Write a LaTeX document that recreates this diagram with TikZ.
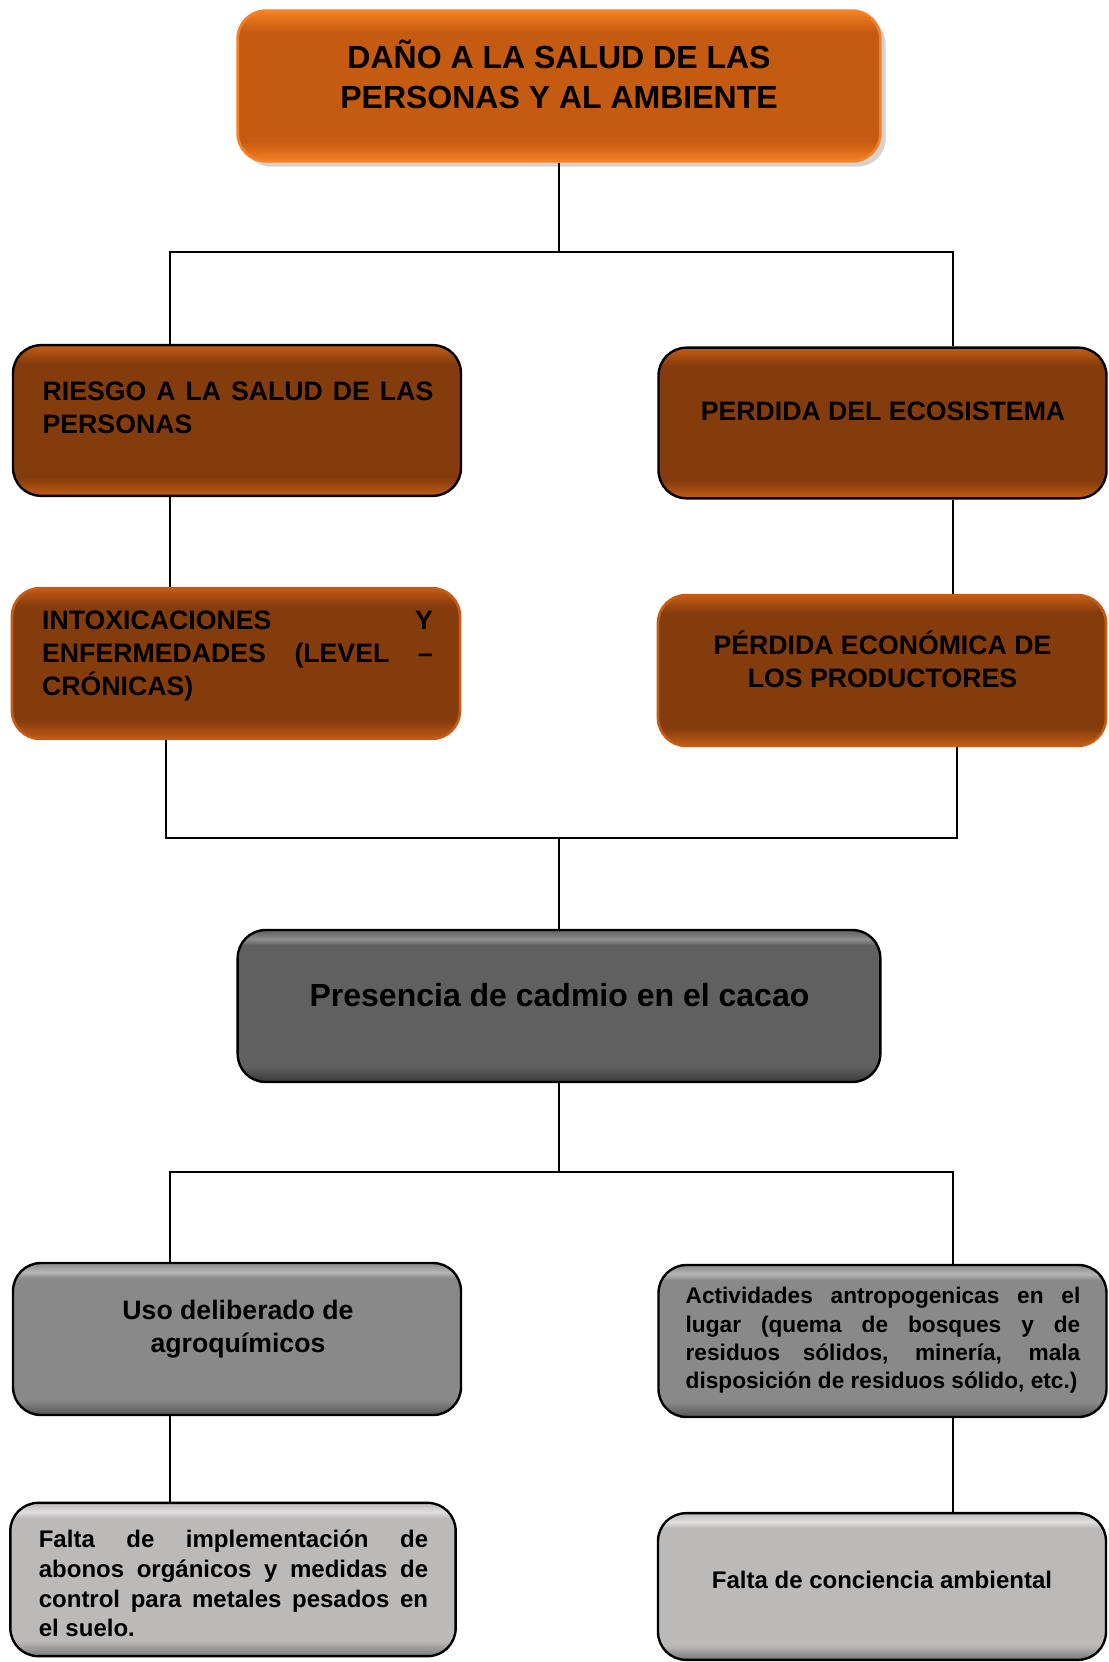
\documentclass[tikz,border=0pt]{standalone}
\usepackage{fontspec}
\setmainfont{Liberation Sans}
\usetikzlibrary{shadows}

\definecolor{orgbody}{RGB}{197,90,17}
\definecolor{orgrim}{RGB}{246,128,36}
\definecolor{brnbody}{RGB}{132,60,12}
\definecolor{brnrim}{RGB}{196,92,22}
\definecolor{gdbody}{RGB}{96,96,96}
\definecolor{gdhi}{RGB}{142,142,142}
\definecolor{gdlow}{RGB}{55,55,55}
\definecolor{gmbody}{RGB}{137,137,137}
\definecolor{gmhi}{RGB}{182,182,182}
\definecolor{gmlow}{RGB}{85,85,85}
\definecolor{glbody}{RGB}{188,185,185}
\definecolor{glhi}{RGB}{224,222,222}
\definecolor{gllow}{RGB}{122,120,120}

\pgfdeclareverticalshading{orangeglow}{100bp}{color(0bp)=(orgrim); color(25bp)=(orgrim); color(32bp)=(orgbody); color(68bp)=(orgbody); color(75bp)=(orgrim); color(100bp)=(orgrim)}
\pgfdeclareverticalshading{brownglow}{100bp}{color(0bp)=(brnrim); color(25bp)=(brnrim); color(31bp)=(brnbody); color(69bp)=(brnbody); color(75bp)=(brnrim); color(100bp)=(brnrim)}
\pgfdeclareverticalshading{bevdark}{100bp}{color(0bp)=(gdlow); color(25bp)=(gdlow); color(30bp)=(gdbody); color(70bp)=(gdbody); color(72bp)=(gdhi); color(75bp)=(gdbody); color(100bp)=(gdbody)}
\pgfdeclareverticalshading{bevmid}{100bp}{color(0bp)=(gmlow); color(25bp)=(gmlow); color(30bp)=(gmbody); color(70bp)=(gmbody); color(72bp)=(gmhi); color(75bp)=(gmbody); color(100bp)=(gmbody)}
\pgfdeclareverticalshading{bevlight}{100bp}{color(0bp)=(gllow); color(25bp)=(gllow); color(30bp)=(glbody); color(70bp)=(glbody); color(72bp)=(glhi); color(75bp)=(glbody); color(100bp)=(glbody)}

\tikzset{every picture/.style={line width=0.75pt}}

\begin{document}
\begin{tikzpicture}[
            x=0.75pt,
            y=0.75pt,
            yscale=-1,
            xscale=1,
            box/.style={rectangle, rounded corners=21pt, inner sep=0pt},
            wide/.style={box, minimum width=482pt, minimum height=113pt},
            side/.style={box, minimum width=336pt, minimum height=113pt},
            orangebox/.style={shading=orangeglow, draw=orgrim, line width=2pt,
                drop shadow={shadow xshift=4pt, shadow yshift=-4pt, opacity=0.35}},
            brownbox/.style={shading=brownglow, draw=black, line width=1.8pt},
            brownglowbox/.style={shading=brownglow, draw=brnrim, line width=2pt},
            darkbox/.style={shading=bevdark, draw=black, line width=1.8pt},
            midbox/.style={shading=bevmid, draw=black, line width=1.8pt},
            lightbox/.style={shading=bevlight, draw=black, line width=1.8pt},
            toptxt/.style={inner sep=0pt, align=center, font=\bfseries\fontsize{24}{30}\selectfont},
            captxt/.style={inner sep=0pt, font=\bfseries\fontsize{20}{25}\selectfont},
            bigtxt/.style={inner sep=0pt, font=\bfseries\fontsize{24}{29}\selectfont},
            smalltxt/.style={inner sep=0pt, font=\bfseries\fontsize{17}{21.2}\selectfont},
            midtxt/.style={inner sep=0pt, font=\bfseries\fontsize{18}{22.3}\selectfont},
            link/.style={draw=black, line width=1.8pt}
        ]
            \useasboundingbox (0,0) rectangle (1109,1662);

            % efectos
            \node[wide, orangebox] (dano) at (559,86) {};
            \node[side, brownbox] (riesgo) at (237,420.5) {};
            \node[side, brownbox] (perdida) at (882.5,423) {};
            \node[side, brownglowbox] (intox) at (236,663.5) {};
            \node[side, brownglowbox] (economica) at (882,670.5) {};

            % problema central
            \node[wide, darkbox, minimum height=114pt] (cadmio) at (559,1006) {};

            % causas
            \node[side, midbox, minimum height=114pt] (uso) at (237,1339) {};
            \node[side, midbox, minimum height=114pt] (activ) at (882.5,1341) {};
            \node[side, lightbox, minimum width=334pt, minimum height=115pt] (abonos) at (233,1579.5) {};
            \node[side, lightbox, minimum height=110pt] (conciencia) at (882,1586.5) {};

            \node[toptxt] (t-dano) at (559,74.5) {DAÑO A LA SALUD DE LAS\\PERSONAS Y AL AMBIENTE};
            \node[captxt, text width=293pt, align=justify] (t-riesgo) at (238,408) {RIESGO A LA SALUD DE LAS\linebreak PERSONAS};
            \node[captxt, align=center] (t-perdida) at (883,411) {PERDIDA DEL ECOSISTEMA};
            \node[captxt, text width=293pt, align=justify] (t-intox) at (237.5,656) {INTOXICACIONES Y\linebreak ENFERMEDADES (LEVEL –\linebreak CRÓNICAS)};
            \node[captxt, align=center] (t-economica) at (882.5,659) {PÉRDIDA ECONÓMICA DE\\LOS PRODUCTORES};
            \node[bigtxt] (t-cadmio) at (559.5,995) {Presencia de cadmio en el cacao};
            \node[captxt, align=center] (t-uso) at (238,1329) {Uso deliberado de\\agroquímicos};
            \node[smalltxt, text width=296pt, align=justify] (t-activ) at (883,1340.5) {Actividades antropogenicas en el\linebreak lugar (quema de bosques y de\linebreak residuos sólidos, minería, mala\linebreak disposición de residuos sólido, etc.)};
            \node[midtxt, text width=292pt, align=justify] (t-abonos) at (233.5,1583.5) {Falta de implementación de\linebreak abonos orgánicos y medidas de\linebreak control para metales pesados en\linebreak el suelo.};
            \node[midtxt] (t-conciencia) at (882,1580) {Falta de conciencia ambiental};

            % conectores
            \coordinate (s1) at (559,252);
            \coordinate (s1l) at (170,252);
            \coordinate (s1r) at (953,252);
            \draw[link] (dano) -- (s1);
            \draw[link] (riesgo.north -| s1l) |- (s1r) -- (perdida.north -| s1r);
            \draw[link] (riesgo.south -| s1l) -- (intox.north -| s1l);
            \draw[link] (perdida.south -| s1r) -- (economica.north -| s1r);

            \coordinate (s2) at (559,838);
            \coordinate (s2l) at (166,838);
            \coordinate (s2r) at (957,838);
            \draw[link] (intox.south -| s2l) |- (s2r) -- (economica.south -| s2r);
            \draw[link] (s2) -- (cadmio);

            \coordinate (s3) at (559,1172);
            \coordinate (s3l) at (170,1172);
            \coordinate (s3r) at (953,1172);
            \draw[link] (cadmio) -- (s3);
            \draw[link] (uso.north -| s3l) |- (s3r) -- (activ.north -| s3r);
            \draw[link] (uso.south -| s3l) -- (abonos.north -| s3l);
            \draw[link] (activ.south -| s3r) -- (conciencia.north -| s3r);
        \end{tikzpicture}
\end{document}
